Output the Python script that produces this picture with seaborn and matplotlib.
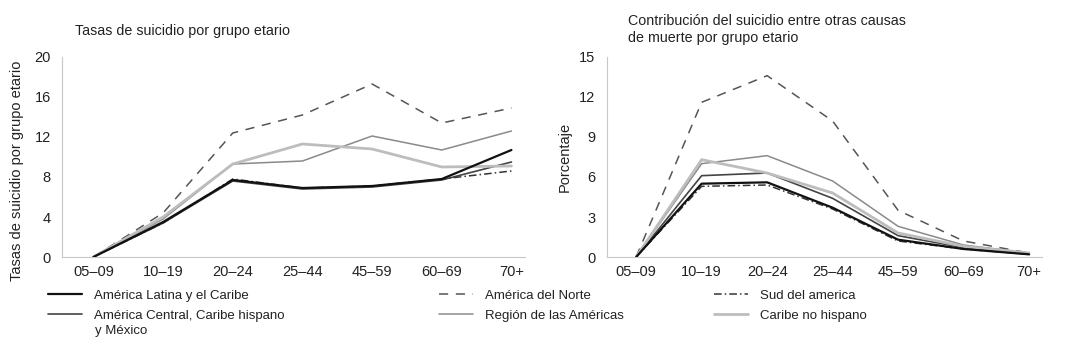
import numpy as np
import pandas as pd
import seaborn as sns
import matplotlib.pyplot as plt
from matplotlib.lines import Line2D

# Age groups
grupos = ["05\u201309", "10\u201319", "20\u201324", "25\u201344", "45\u201359", "60\u201369", "70+"]

# Suicide rates by age group (left panel)
tasa_lac = [0, 3.5, 7.7, 6.9, 7.1, 7.8, 10.7]
tasa_central = [0, 3.4, 7.6, 6.8, 7.0, 7.7, 9.5]
tasa_norte = [0, 4.4, 12.4, 14.2, 17.3, 13.4, 14.9]
tasa_region = [0, 3.8, 9.3, 9.6, 12.1, 10.7, 12.6]
tasa_sud = [0, 3.4, 7.8, 6.9, 7.1, 7.8, 8.6]
tasa_caribe = [0, 4.0, 9.3, 11.3, 10.8, 9.0, 9.1]

# Share of suicide among causes of death (right panel)
pct_lac = [0, 5.5, 5.6, 3.7, 1.3, 0.6, 0.2]
pct_central = [0, 6.1, 6.3, 4.4, 1.6, 0.7, 0.2]
pct_norte = [0, 11.6, 13.6, 10.2, 3.5, 1.2, 0.3]
pct_region = [0, 7.0, 7.6, 5.7, 2.3, 0.9, 0.3]
pct_sud = [0, 5.3, 5.4, 3.6, 1.2, 0.6, 0.2]
pct_caribe = [0, 7.3, 6.3, 4.8, 1.8, 0.8, 0.3]

nombres = ["Am\u00e9rica Latina y el Caribe",
           "Am\u00e9rica Central, Caribe hispano",
           "Am\u00e9rica del Norte",
           "Regi\u00f3n de las Am\u00e9ricas",
           "Sud del america",
           "Caribe no hispano"]

# Styles per series: (color, linewidth, linestyle)
estilos = [
    ("#111111", 1.6, "-"),
    ("#444444", 1.2, "-"),
    ("#555555", 1.1, (0, (6, 5))),
    ("#8a8a8a", 1.1, "-"),
    ("#333333", 1.1, (0, (5, 2, 1, 2))),
    ("#bdbdbd", 2.0, "-"),
]

sns.set_theme(style="white")
plt.rcParams["font.family"] = ["Liberation Sans", "DejaVu Sans"]

fig = plt.figure(figsize=(10.7, 3.63), dpi=100)
ax1 = fig.add_axes([0.058, 0.292, 0.433, 0.551])
ax2 = fig.add_axes([0.567, 0.292, 0.407, 0.551])

def draw_panel(ax, series, ymax, ystep):
    df = pd.DataFrame({"grupo": grupos})
    for vals, (color, lw, ls) in zip(series, estilos):
        sns.lineplot(x=np.arange(len(grupos)), y=vals, ax=ax, color=color,
                     linewidth=lw, linestyle=ls, zorder=3 if color == "#111111" else 2)
    ax.set_xlim(-0.45, 6.2)
    ax.set_ylim(0, ymax)
    ax.set_xticks(range(len(grupos)))
    ax.set_xticklabels(df["grupo"])
    ax.set_xticks(np.arange(0.5, 6, 1), minor=True)
    ax.set_yticks(np.arange(0, ymax + 0.1, ystep))
    ax.tick_params(axis="x", which="major", length=0, pad=6, labelsize=10.5, colors="#222222")
    ax.tick_params(axis="x", which="minor", direction="in", length=8, width=0.8, color="#c8c8c8")
    ax.tick_params(axis="y", direction="in", length=4, width=0.8, color="#c8c8c8",
                   labelsize=10.5, labelcolor="#222222", pad=8)
    for s in ["top", "right"]:
        ax.spines[s].set_visible(False)
    for s in ["left", "bottom"]:
        ax.spines[s].set_color("#c8c8c8")
        ax.spines[s].set_linewidth(0.8)

draw_panel(ax1, [tasa_lac, tasa_central, tasa_norte, tasa_region, tasa_sud, tasa_caribe], 20, 4)
draw_panel(ax2, [pct_lac, pct_central, pct_norte, pct_region, pct_sud, pct_caribe], 15, 3)

ax1.set_ylabel("Tasas de suicidio por grupo etario", fontsize=10.5, color="#222222")
ax1.yaxis.set_label_coords(-0.083, 0.43)
ax2.set_ylabel("Porcentaje", fontsize=10.5, color="#222222")
ax2.yaxis.set_label_coords(-0.08, 0.5)

fig.text(0.07, 0.935, "Tasas de suicidio por grupo etario", fontsize=10.3,
         color="#222222", va="top")
fig.text(0.587, 0.962, "Contribuci\u00f3n del suicidio entre otras causas\nde muerte por grupo etario",
         fontsize=10.3, color="#222222", linespacing=1.25, va="top")

# Legend: three columns placed separately
handles = [Line2D([0], [0], color=c, linewidth=lw, linestyle=ls) for c, lw, ls in estilos]
columnas = [(0.04, [0, 1]), (0.405, [2, 3]), (0.662, [4, 5])]
for x0, idx in columnas:
    leg = fig.legend([handles[i] for i in idx], [nombres[i] for i in idx],
                     loc="upper left", bbox_to_anchor=(x0, 0.216), frameon=False,
                     fontsize=9.5, handlelength=2.6, handletextpad=0.9, labelspacing=0.55,
                     borderaxespad=0)
    for t in leg.get_texts():
        t.set_color("#222222")

# Second line of the two-line legend label
fig.text(0.0885, 0.088, "y M\u00e9xico", fontsize=9.5, color="#222222", va="center")

fig.savefig("out.png", dpi=100, facecolor="white")
